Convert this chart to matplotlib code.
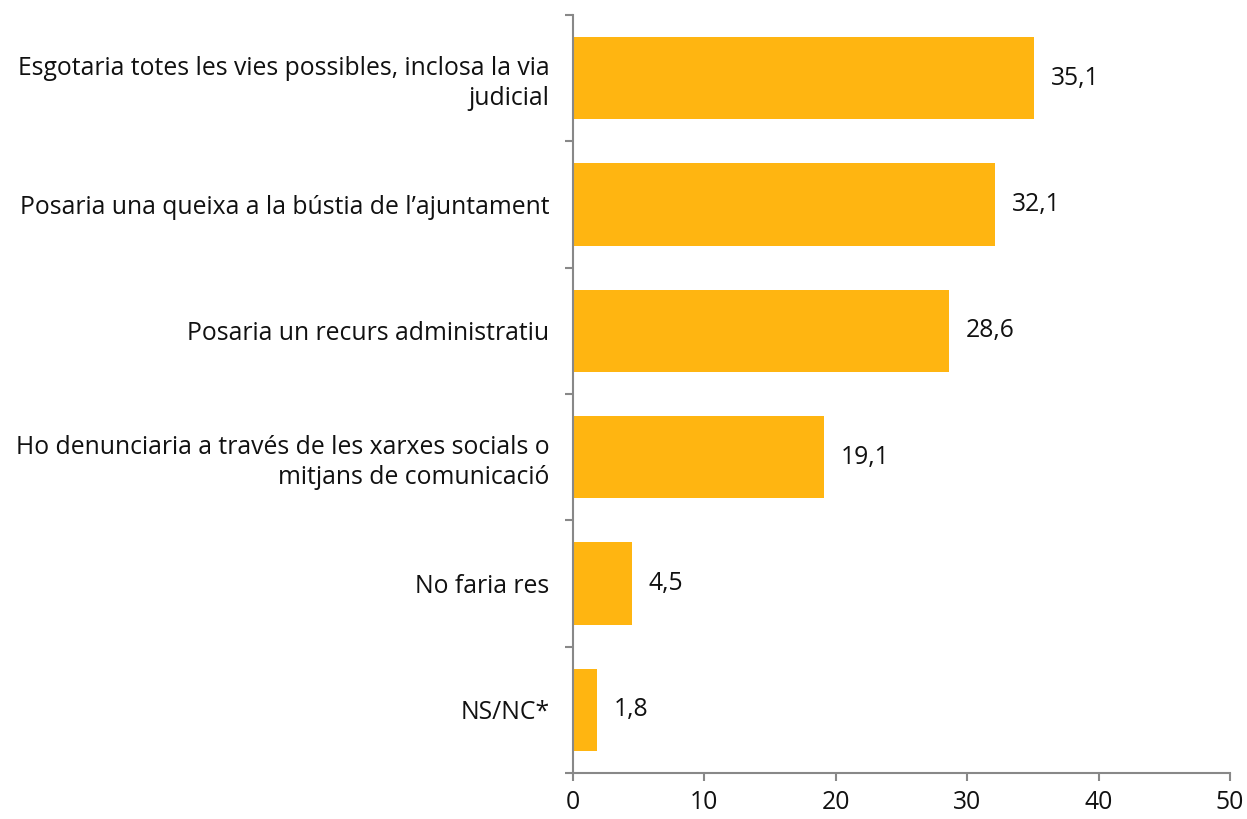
import matplotlib
matplotlib.use("Agg")
import matplotlib.pyplot as plt
import numpy as np

categories = [
    "Esgotaria totes les vies possibles, inclosa la via\njudicial",
    "Posaria una queixa a la bústia de l’ajuntament",
    "Posaria un recurs administratiu",
    "Ho denunciaria a través de les xarxes socials o\nmitjans de comunicació",
    "No faria res",
    "NS/NC*",
]
values = [35.1, 32.1, 28.6, 19.1, 4.5, 1.8]
xticks = [0, 10, 20, 30, 40, 50]

plt.rcParams['font.family'] = ['Open Sans', 'DejaVu Sans']

fig = plt.figure(figsize=(12.47, 8.19), dpi=100)
ax = fig.add_axes([573/1247, 1-773/819, (1230-573)/1247, (773-15)/819])

n = len(categories)
ypos = np.arange(n)
ax.barh(ypos, values, height=0.65, color="#FFB511", zorder=2)
ax.set_ylim(n - 0.5, -0.5)
ax.set_xlim(0, 50)

ax.set_yticks(np.arange(-0.5, n, 1.0))
ax.set_yticklabels([])
ax.set_yticks(ypos, minor=True)
ax.set_yticklabels(categories, minor=True, fontsize=17.8, color="#111111", linespacing=1.25)
ax.tick_params(axis='y', which='minor', length=0, pad=17)
ax.tick_params(axis='y', which='major', length=6, width=1.5, color="#888888", direction='out')

ax.set_xticks(xticks)
ax.set_xticklabels([str(t) for t in xticks], fontsize=17.8, color="#111111")
ax.tick_params(axis='x', length=6, width=1.5, color="#888888", direction='out', pad=6)

for s in ['top', 'right']:
    ax.spines[s].set_visible(False)
for s in ['left', 'bottom']:
    ax.spines[s].set_color("#888888")
    ax.spines[s].set_linewidth(1.5)

for y, v in zip(ypos, values):
    ax.annotate(f"{v:.1f}".replace('.', ','), xy=(v, y), xytext=(12, 0),
                textcoords='offset points', va='center', ha='left',
                fontsize=17.8, color="#111111")

fig.savefig("out.png", dpi=100)
